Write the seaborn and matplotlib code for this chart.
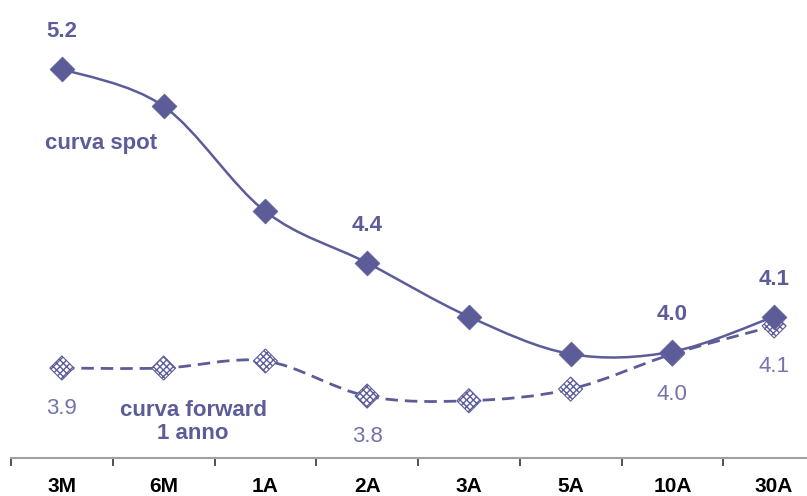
import numpy as np
import matplotlib
matplotlib.use("Agg")
import matplotlib.pyplot as plt
from matplotlib.path import Path
from matplotlib.patches import PathPatch
import seaborn as sns

tenors = ['3M', '6M', '1A', '2A', '3A', '5A', '10A', '30A']
spot = [5.20, 5.04, 4.59, 4.37, 4.14, 3.98, 3.99, 4.14]
forward = [3.92, 3.92, 3.95, 3.80, 3.78, 3.83, 3.98, 4.10]

# which points carry a value label
spot_labels = {0: '5.2', 3: '4.4', 6: '4.0', 7: '4.1'}
fwd_labels = {0: '3.9', 3: '3.8', 6: '4.0', 7: '4.1'}

PURPLE = '#5c5c99'
PURPLE_LIGHT = '#7373ad'

sns.set_style('white')
plt.rcParams['font.family'] = ['Liberation Sans', 'DejaVu Sans']


def smooth_path(xs, ys):
    # excel-like smoothed line: catmull-rom segments as cubic beziers
    pts = np.column_stack([xs, ys]).astype(float)
    n = len(pts)
    verts = [pts[0]]
    codes = [Path.MOVETO]
    for i in range(n - 1):
        p0 = pts[i - 1] if i > 0 else pts[i]
        p1 = pts[i]
        p2 = pts[i + 1]
        p3 = pts[i + 2] if i + 2 < n else pts[i + 1]
        c1 = p1 + (p2 - p0) / 6.0
        c2 = p2 - (p3 - p1) / 6.0
        verts += [c1, c2, p2]
        codes += [Path.CURVE4] * 3
    return Path(verts, codes)


fig = plt.figure(figsize=(8.07, 4.96), dpi=100)
ax = fig.add_axes([11 / 807, 38 / 496, 814 / 807, 458 / 496])

x = np.arange(len(tenors))

ax.add_patch(PathPatch(smooth_path(x, forward), facecolor='none', edgecolor=PURPLE,
                       lw=2.0, linestyle=(0, (4.5, 2.5)), zorder=2))
ax.add_patch(PathPatch(smooth_path(x, spot), facecolor='none', edgecolor=PURPLE,
                       lw=1.8, zorder=3))

sns.scatterplot(x=x, y=forward, marker='D', s=150, color='white', edgecolor=PURPLE,
                hatch='xxxxx', linewidth=0.8, ax=ax, zorder=4)
sns.scatterplot(x=x, y=spot, marker='D', s=160, color=PURPLE, edgecolor=PURPLE,
                linewidth=0.5, ax=ax, zorder=5)

for i, t in spot_labels.items():
    ax.annotate(t, (x[i], spot[i]), xytext=(0, 27), textcoords='offset points',
                ha='center', va='center', fontsize=16, fontweight='bold', color=PURPLE)
for i, t in fwd_labels.items():
    ax.annotate(t, (x[i], forward[i]), xytext=(0, -29), textcoords='offset points',
                ha='center', va='center', fontsize=16, color=PURPLE_LIGHT)

ax.text(0.39, 4.88, 'curva spot', ha='center', va='center', fontsize=16,
        fontweight='bold', color=PURPLE)
ax.text(1.29, 3.69, 'curva forward\n1 anno', ha='center', va='center', fontsize=16,
        fontweight='bold', color=PURPLE, linespacing=1.1)

ax.set_xlim(-0.5, len(tenors) - 0.5)
ax.set_ylim(3.535, 5.495)
ax.set_yticks([])
ax.set_xticks(x)
ax.set_xticklabels(tenors, fontsize=15, fontweight='bold', color='black')
ax.set_xticks(np.arange(-0.5, len(tenors)), minor=True)
ax.tick_params(axis='x', which='major', bottom=False, length=0, pad=14)
ax.tick_params(axis='x', which='minor', bottom=True, length=6, width=1.2,
               color='#333333', direction='out')
for s in ['top', 'left', 'right']:
    ax.spines[s].set_visible(False)
ax.spines['bottom'].set_color('#a0a0a0')
ax.spines['bottom'].set_linewidth(1.5)

fig.savefig('out.png', dpi=100)
